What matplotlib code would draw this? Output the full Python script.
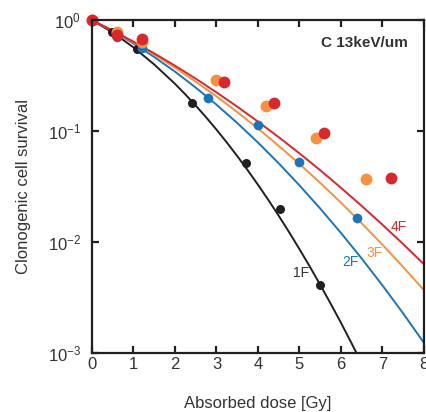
import matplotlib.pyplot as plt
from matplotlib.ticker import LogLocator, NullLocator

plt.rcParams['font.family'] = ['Liberation Sans', 'DejaVu Sans']

# measured survival (points)
dose_1f = [0, 0.47, 1.08, 2.41, 3.71, 4.53, 5.49]
surv_1f = [1.0, 0.785, 0.545, 0.179, 0.0515, 0.020, 0.0041]
dose_2f = [0, 0.6, 1.2, 2.8, 4.0, 5.0, 6.4]
surv_2f = [1.0, 0.71, 0.56, 0.20, 0.113, 0.053, 0.0166]
dose_3f = [0, 0.6, 1.2, 2.98, 4.19, 5.4, 6.6]
surv_3f = [1.0, 0.785, 0.63, 0.29, 0.168, 0.086, 0.0367]
dose_4f = [0, 0.6, 1.2, 3.18, 4.39, 5.6, 7.2]
surv_4f = [1.0, 0.74, 0.67, 0.28, 0.18, 0.0966, 0.0375]

# fitted survival curves
fit_dose_1f = [0, 0.5, 1.0, 1.5, 2.0, 2.25, 2.5, 2.75, 3.0, 3.25, 3.5, 3.75, 4.0, 4.25,
               4.5, 4.75, 5.0, 5.25, 5.5, 5.75, 6.0, 6.25, 6.5]
fit_1f = [1.0, 0.773, 0.569, 0.399, 0.267, 0.2143, 0.170, 0.1333, 0.1033, 0.0790, 0.0597,
          0.0446, 0.0329, 0.0240, 0.0173, 0.01231, 0.00866, 0.00602, 0.00413, 0.00280,
          0.00188, 0.00124, 0.000813]
fit_dose = [0, 0.5, 1.0, 1.5, 2.0, 2.5, 3.0, 3.5, 4.0, 4.5, 5.0, 5.5, 6.0, 6.5, 7.0, 7.5, 8.0]
fit_2f = [1.0, 0.795, 0.617, 0.466, 0.344, 0.247, 0.1734, 0.1185, 0.0790, 0.0513,
          0.0325, 0.0201, 0.01212, 0.00712, 0.00408, 0.00228, 0.00124]
fit_3f = [1.0, 0.802, 0.632, 0.490, 0.373, 0.279, 0.2056, 0.1487, 0.1057, 0.0738,
          0.0507, 0.0342, 0.0227, 0.0148, 0.00949, 0.00597, 0.00370]
fit_4f = [1.0, 0.806, 0.640, 0.502, 0.389, 0.297, 0.2237, 0.1663, 0.1220, 0.0883,
          0.0631, 0.0445, 0.0309, 0.0212, 0.01437, 0.00961, 0.00633]

black = '#231f20'
blue = '#1b75bb'
orange = '#f7903f'
red = '#d9272e'

fig = plt.figure(figsize=(4.26, 4.12), dpi=100)
ax = fig.add_axes([0.216, 0.143, 0.779, 0.808])

lw = 1.4
ax.plot(fit_dose_1f, fit_1f, color=black, lw=lw, zorder=2)
ax.plot(fit_dose, fit_2f, color=blue, lw=lw, zorder=2)
ax.plot(fit_dose, fit_3f, color=orange, lw=lw, zorder=2)
ax.plot(fit_dose, fit_4f, color=red, lw=lw, zorder=2)

ax.plot(dose_1f, surv_1f, 'o', color=black, ms=6.5, mec='none', zorder=3, clip_on=False)
ax.plot(dose_2f, surv_2f, 'o', color=blue, ms=7, mec='none', zorder=4, clip_on=False)
ax.plot(dose_3f, surv_3f, 'o', color=orange, ms=8.5, mec='none', zorder=5, clip_on=False)
ax.plot(dose_4f, surv_4f, 'o', color=red, ms=8.5, mec='none', zorder=6, clip_on=False)

ax.text(5.05, 10**-2.28, '1F', color='#333333', fontsize=10, ha='center', va='center')
ax.text(6.22, 10**-2.18, '2F', color=blue, fontsize=10, ha='center', va='center')
ax.text(6.8, 10**-2.1, '3F', color=orange, fontsize=10, ha='center', va='center')
ax.text(7.4, 10**-1.86, '4F', color=red, fontsize=10, ha='center', va='center')

ax.text(0.952, 0.932, 'C 13keV/um', transform=ax.transAxes, fontsize=11,
        fontweight='bold', color='#333333', ha='right', va='center')

ax.set_yscale('log')
ax.set_xlim(0, 8)
ax.set_ylim(1e-3, 1)
ax.set_xticks(range(0, 9))
ax.yaxis.set_major_locator(LogLocator(base=10, numticks=10))
ax.yaxis.set_minor_locator(NullLocator())

for side in ['left', 'right', 'top', 'bottom']:
    ax.spines[side].set_linewidth(1.6)
    ax.spines[side].set_color(black)
    ax.spines[side].set_zorder(7)
ax.tick_params(axis='both', which='major', direction='in', length=5, width=1.6,
               top=True, right=True, labelsize=12, color=black, labelcolor='#333333')
ax.tick_params(axis='x', pad=3)
ax.tick_params(axis='y', pad=8)

ax.set_xlabel('Absorbed dose [Gy]', fontsize=12, color='#333333', labelpad=17)
ax.set_ylabel('Clonogenic cell survival', fontsize=12, color='#333333', labelpad=12)

plt.savefig('out.png', dpi=100)
